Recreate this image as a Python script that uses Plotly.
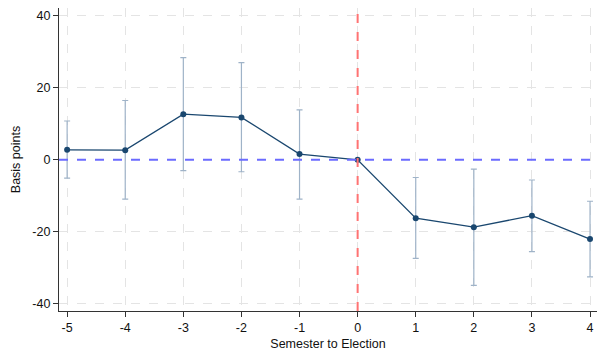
import plotly.graph_objects as go

# Event-time coefficients with 95% confidence bounds
semesters = [-5, -4, -3, -2, -1, 0, 1, 2, 3, 4]
coef = [2.8, 2.7, 12.7, 11.8, 1.6, 0.0, -16.2, -18.7, -15.5, -22.0]
ci_upper = [10.8, 16.5, 28.4, 27.0, 13.9, 0.0, -4.9, -2.6, -5.6, -11.5]
ci_lower = [-5.1, -10.9, -3.0, -3.3, -10.9, 0.0, -27.4, -34.9, -25.5, -32.5]
x_ticks = [-5, -4, -3, -2, -1, 0, 1, 2, 3, 4]
y_ticks = [-40, -20, 0, 20, 40]

err_plus = [u - c for u, c in zip(ci_upper, coef)]
err_minus = [c - l for c, l in zip(coef, ci_lower)]

FONT = "Liberation Sans, Arial, sans-serif"
NAVY = "#1a476f"
CI_COLOR = "#9fb3c8"
GRID = "#e4e4e4"

fig = go.Figure()

# Confidence intervals (drawn as capped spikes)
fig.add_trace(go.Scatter(
    x=semesters, y=coef, mode="markers",
    marker=dict(size=1, color="rgba(0,0,0,0)"),
    error_y=dict(type="data", symmetric=False, array=err_plus, arrayminus=err_minus,
                 color=CI_COLOR, thickness=1.2, width=3),
    hoverinfo="skip", showlegend=False,
))

# Reference lines
fig.add_hline(y=0, line=dict(color="#6b6bff", width=2, dash="dash"), layer="above")
fig.add_vline(x=0, line=dict(color="#ff7373", width=2, dash="dash"), layer="above")

# Point estimates
fig.add_trace(go.Scatter(
    x=semesters, y=coef, mode="lines+markers",
    line=dict(color=NAVY, width=1.3),
    marker=dict(color=NAVY, size=6),
    showlegend=False,
))

fig.update_layout(
    width=597, height=354,
    margin=dict(l=59, r=0, t=8, b=43),
    paper_bgcolor="white", plot_bgcolor="white",
    font=dict(family=FONT, size=12.5, color="#111111"),
    xaxis=dict(
        range=[-5.14, 4.12], tickvals=x_ticks, ticktext=[str(t) for t in x_ticks],
        showgrid=True, gridcolor=GRID, griddash="dash", gridwidth=1,
        showline=True, linecolor="#333333", linewidth=1.2,
        ticks="outside", ticklen=5, tickcolor="#333333",
        zeroline=False,
        title=dict(text="Semester to Election", standoff=5, font=dict(size=12.5)),
    ),
    yaxis=dict(
        range=[-42.0, 42.2], tickvals=y_ticks, ticktext=[str(t) for t in y_ticks],
        showgrid=True, gridcolor=GRID, griddash="dash", gridwidth=1,
        showline=True, linecolor="#333333", linewidth=1.2,
        ticks="outside", ticklen=5, tickcolor="#333333",
        zeroline=False,
        title=dict(text="Basis points", standoff=8, font=dict(size=12.5)),
    ),
)

fig.write_html("out.html")
